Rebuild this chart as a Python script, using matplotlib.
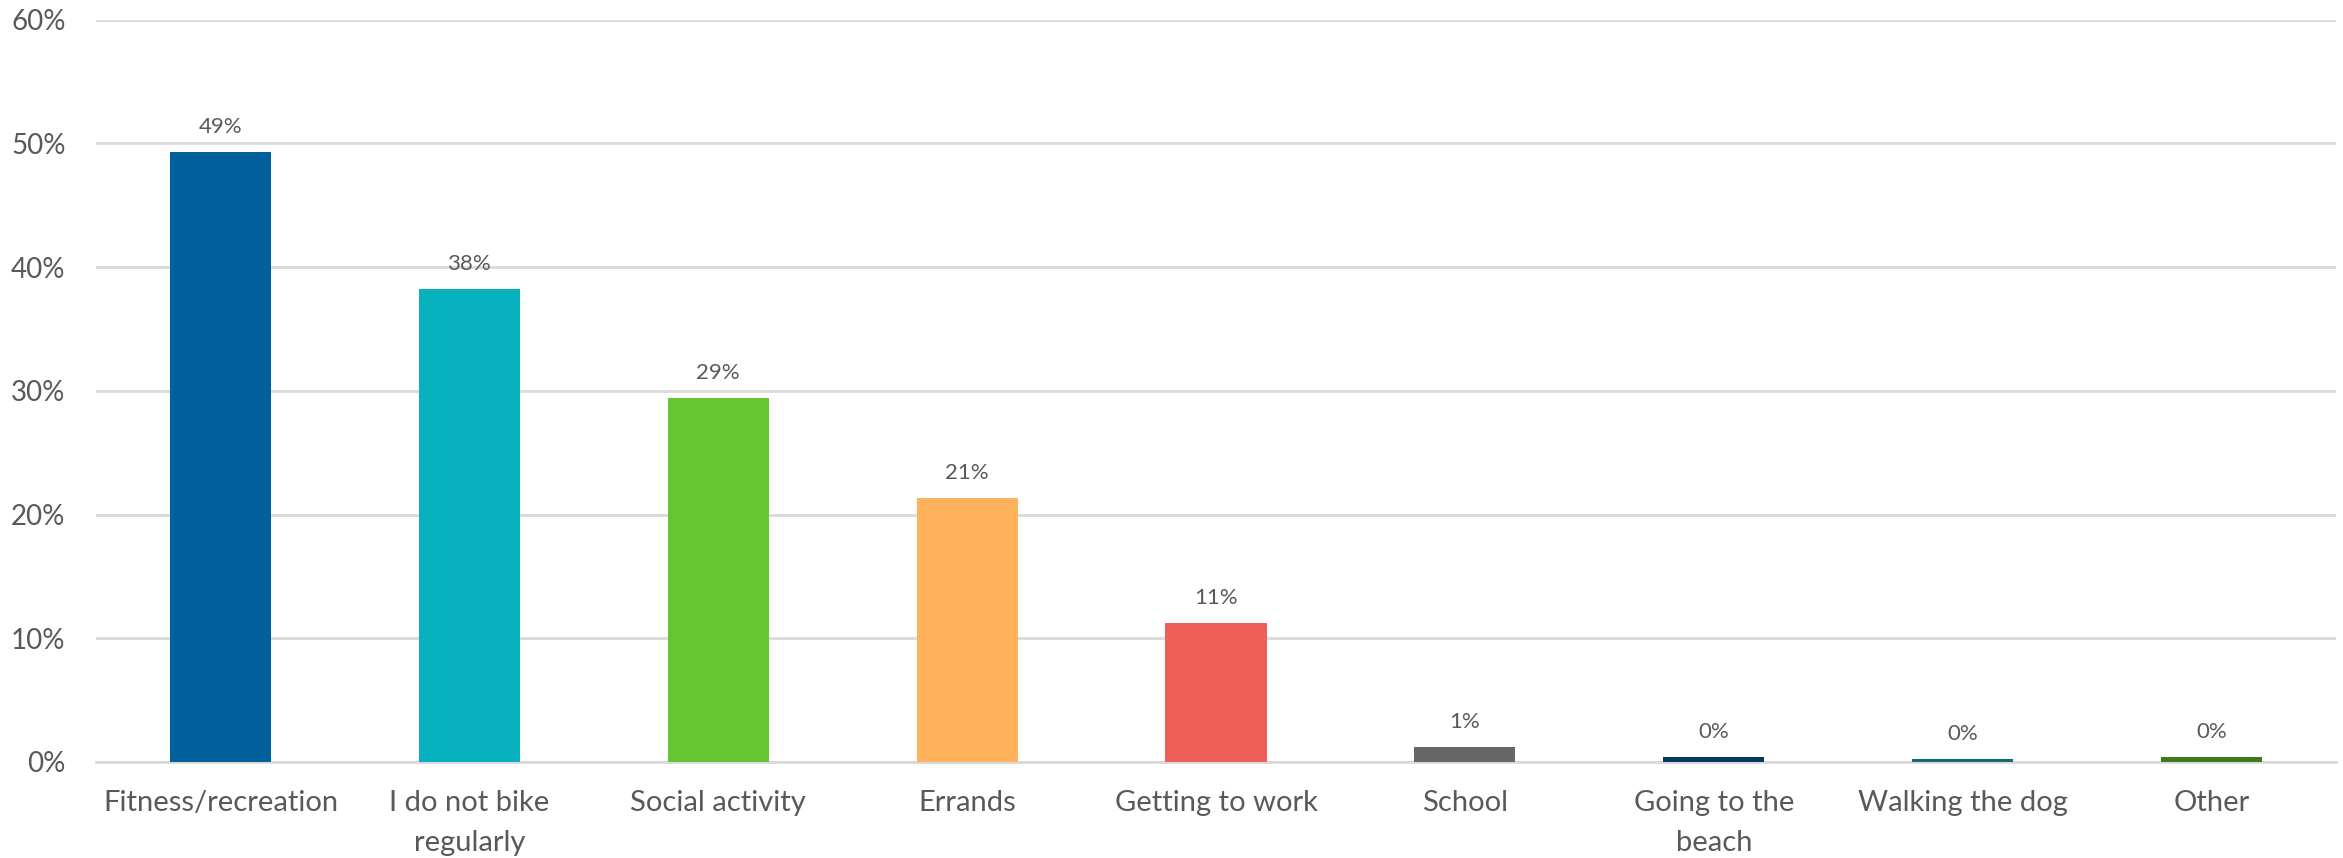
import matplotlib
matplotlib.use("Agg")
import matplotlib.pyplot as plt
from matplotlib.ticker import FuncFormatter

# share of respondents by main reason for riding a bike
reasons = ["Fitness/recreation", "I do not bike\nregularly", "Social activity",
           "Errands", "Getting to work", "School", "Going to the\nbeach",
           "Walking the dog", "Other"]
shares = [0.493, 0.382, 0.294, 0.213, 0.112, 0.012, 0.004, 0.002, 0.004]
colors = ["#00609C", "#07B1BD", "#66C631", "#FFB25B", "#F05F57",
          "#666666", "#003A5D", "#0E6E73", "#3F7A1F"]

text_color = "#595959"
grid_color = "#D9D9D9"

plt.rcParams['font.family'] = ['Lato', 'DejaVu Sans']

fig = plt.figure(figsize=(23.43, 8.58), dpi=100)
ax = fig.add_axes([0.041, 0.112, 0.956, 0.865])

x = range(len(reasons))
bars = ax.bar(x, shares, width=0.406, color=colors, zorder=3)

for rect, v in zip(bars, shares):
    ax.annotate("{:.0%}".format(v),
                xy=(rect.get_x() + rect.get_width() / 2, v),
                xytext=(0, 11), textcoords="offset points",
                ha="center", va="bottom", fontsize=16, color=text_color)

ax.set_xlim(-0.5, len(reasons) - 0.5)
ax.set_ylim(0, 0.6)
ax.set_yticks([0, 0.1, 0.2, 0.3, 0.4, 0.5, 0.6])
ax.yaxis.set_major_formatter(FuncFormatter(lambda v, pos: "{:.0%}".format(v)))
ax.set_xticks(list(x))
ax.set_xticklabels(reasons, linespacing=1.7)

ax.grid(axis="y", color=grid_color, linewidth=2, zorder=0)
ax.tick_params(axis="both", length=0, labelcolor=text_color)
ax.tick_params(axis="y", pad=22, labelsize=20)
ax.tick_params(axis="x", pad=20, labelsize=21)
for side in ["top", "right", "left"]:
    ax.spines[side].set_visible(False)
ax.spines["bottom"].set_color(grid_color)
ax.spines["bottom"].set_linewidth(2)

fig.savefig("out.png", dpi=100)
